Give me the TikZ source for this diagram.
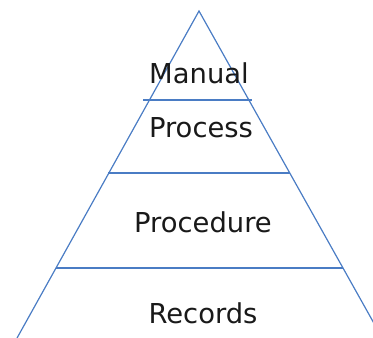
\documentclass[tikz,border=0pt]{standalone}
\usepackage{fontspec}
\setmainfont{DejaVu Sans}
\usetikzlibrary{calc}
\definecolor{tierblue}{HTML}{4A7CC4}

\begin{document}
\begin{tikzpicture}[x=1bp,y=-1bp]
    \tikzset{tier/.style={draw=tierblue,line width=1.2bp},
      lbl/.style={font=\fontsize{27.5}{27.5}\selectfont,text=black!90,inner sep=0pt,anchor=base}}
    \useasboundingbox (0,0) rectangle (373,338);
    \coordinate (top) at (199,11);
    \coordinate (bl) at ($(top)!1.3!(56,268)$);
    \coordinate (br) at ($(top)!1.3!(343,268)$);
    \begin{scope}
    \clip (0,0) rectangle (373,338);
    \draw[tier] (bl) -- (top) -- (br);
    \end{scope}
    \draw[tier] (143,100) -- (252,100);
    \draw[tier] (108,173) -- (290,173);
    \draw[tier] (56,268) -- (343,268);

    \node[lbl] (manual) at (199,83) {Manual};
    \node[lbl] (process) at (201,137) {Process};
    \node[lbl] (procedure) at (203,232) {Procedure};
    \node[lbl] (records) at (203,323) {Records};
\end{tikzpicture}
\end{document}
